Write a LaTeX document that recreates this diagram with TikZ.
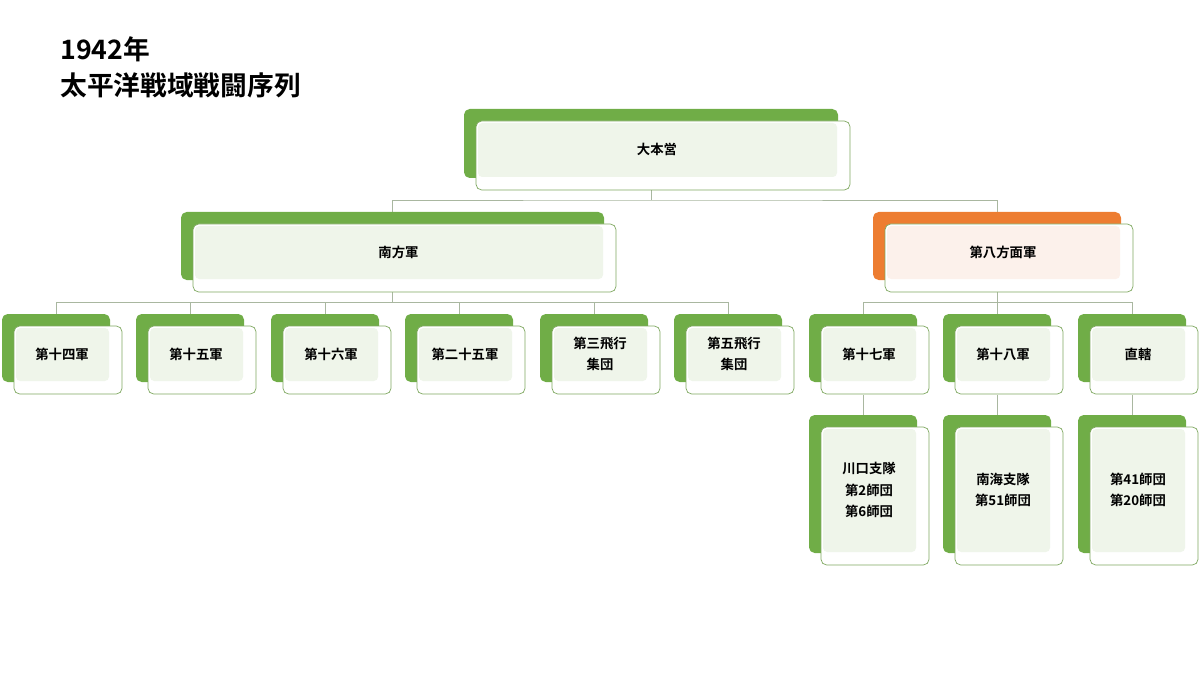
\documentclass[tikz,border=0pt]{standalone}
\usepackage{fontspec}
\newfontfamily\jp{Noto Sans CJK JP}[BoldFont={* Bold}]
\definecolor{gbk}{HTML}{70AD47}
\definecolor{obk}{HTML}{ED7D31}
\definecolor{gpale}{HTML}{EFF5EA}
\definecolor{opale}{HTML}{FCF1EB}
\definecolor{gline}{HTML}{7FA860}
\definecolor{conn}{HTML}{A9B7A0}
\tikzset{x=0.025cm,y=-0.025cm,
 conn/.style={draw=conn,line width=0.6pt},
 lbl/.style={font=\jp\bfseries\fontsize{9.5}{15}\selectfont,align=center,text=black}}
% \unit{name}{x}{y}{w}{h}{back}{pale}{text}
\newcommand\unitbox[8]{%
 \fill[#6,rounded corners=4pt] (#2,#3) rectangle ++(#4,#5);
 \draw[gline,fill=white,rounded corners=4pt,line width=0.5pt] (#2+12,#3+12) rectangle ++(#4,#5);
 \fill[#7,rounded corners=3pt] (#2+14,#3+14) rectangle (#2+#4-1,#3+#5-1);
 \node[lbl] (#1) at (#2+6+#4/2,#3+6+#5/2) {#8};
 \coordinate (#1t) at (#2+#4/2,#3);
 \coordinate (#1b) at (#2+#4/2,#3+#5+12);}
\begin{document}
\begin{tikzpicture}
\useasboundingbox (0,0) rectangle (1200,675);
\node[anchor=north west,font=\jp\bfseries\fontsize{19}{26}\selectfont,align=left,inner sep=0] (title) at (60,36) {1942年\\太平洋戦域戦闘序列};
% connectors
\coordinate (h1) at (651,200);
\draw[conn] (651,190) -- (h1);
\draw[conn] (392,212) |- (h1) -| (997,212);
\draw[conn] (392,292) -- (392,302);
\draw[conn] (56,302) -- (728,302);
\foreach \x in {56,190,325,459,594,728} \draw[conn] (\x,302) -- (\x,314);
\draw[conn] (997,292) -- (997,302);
\draw[conn] (863,302) -- (1132,302);
\foreach \x in {863,997,1132} {\draw[conn] (\x,302) -- (\x,314); \draw[conn] (\x,395) -- (\x,415);}
% boxes
\unitbox{top}{464}{109}{374}{69}{gbk}{gpale}{大本営}
\unitbox{south}{181}{212}{423}{68}{gbk}{gpale}{南方軍}
\unitbox{eighth}{873}{212}{248}{68}{obk}{opale}{第八方面軍}
\unitbox{a14}{2}{314}{108}{68}{gbk}{gpale}{第十四軍}
\unitbox{a15}{136}{314}{108}{68}{gbk}{gpale}{第十五軍}
\unitbox{a16}{271}{314}{108}{68}{gbk}{gpale}{第十六軍}
\unitbox{a25}{405}{314}{108}{68}{gbk}{gpale}{第二十五軍}
\unitbox{f3}{540}{314}{108}{68}{gbk}{gpale}{第三飛行\\集団}
\unitbox{f5}{674}{314}{108}{68}{gbk}{gpale}{第五飛行\\集団}
\unitbox{a17}{809}{314}{108}{68}{gbk}{gpale}{第十七軍}
\unitbox{a18}{943}{314}{108}{68}{gbk}{gpale}{第十八軍}
\unitbox{dir}{1078}{314}{108}{68}{gbk}{gpale}{直轄}
\unitbox{k}{809}{415}{108}{138}{gbk}{gpale}{川口支隊\\第2師団\\第6師団}
\unitbox{n}{943}{415}{108}{138}{gbk}{gpale}{南海支隊\\第51師団}
\unitbox{d}{1078}{415}{108}{138}{gbk}{gpale}{\fontsize{9.5}{11}\selectfont 第41師団\\第20師団}
\end{tikzpicture}
\end{document}
